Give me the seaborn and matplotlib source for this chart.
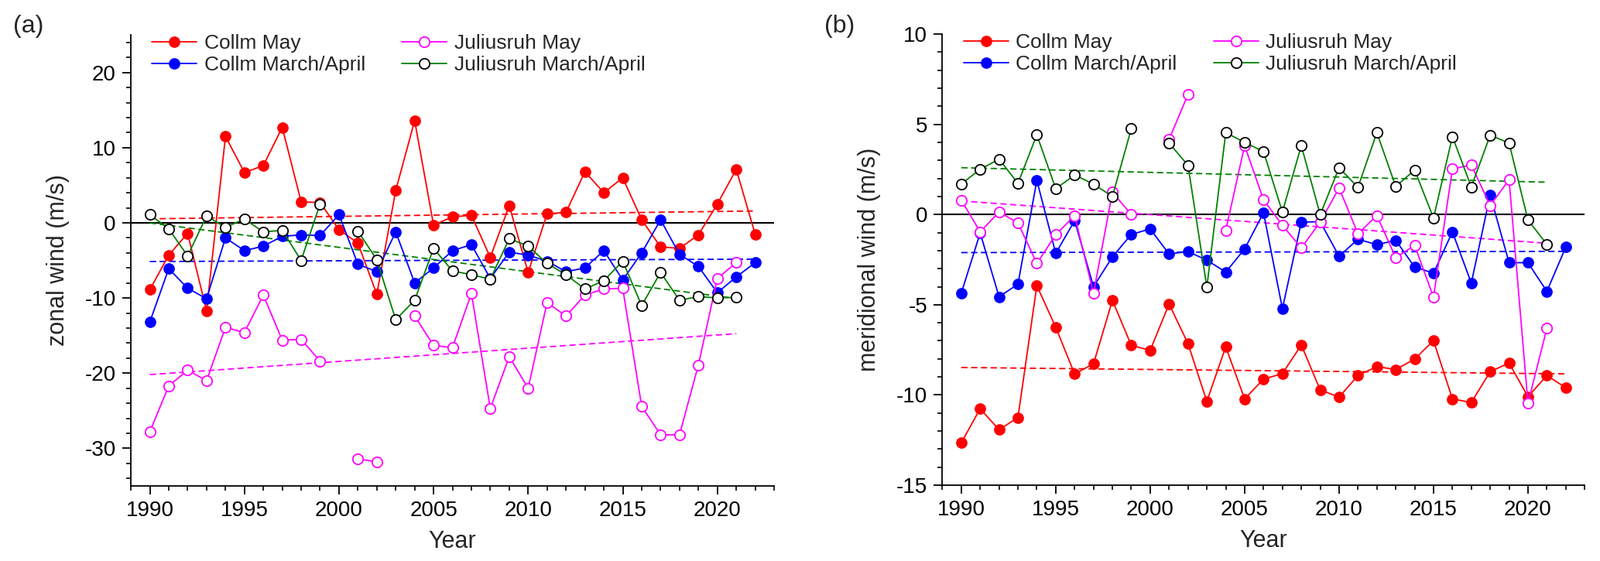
import matplotlib
matplotlib.use('Agg')
import matplotlib.pyplot as plt
import numpy as np
import pandas as pd
import seaborn as sns
from matplotlib.lines import Line2D
from matplotlib.ticker import MultipleLocator

sns.set_theme(style='ticks')
plt.rcParams['font.family'] = ['Liberation Sans', 'DejaVu Sans']
plt.rcParams.update(
    {
        'axes.unicode_minus': False,
        'axes.linewidth': 1.3,
        'xtick.direction': 'out',
        'ytick.direction': 'out',
        'xtick.major.size': 8,
        'ytick.major.size': 8,
        'xtick.minor.size': 4,
        'ytick.minor.size': 4,
        'xtick.major.width': 1.3,
        'ytick.major.width': 1.3,
        'xtick.minor.width': 1.2,
        'ytick.minor.width': 1.2,
        'xtick.major.pad': 6,
        'ytick.major.pad': 6,
        'xtick.labelsize': 20,
        'ytick.labelsize': 20,
        'axes.labelsize': 22,
        'xtick.color': 'black',
        'ytick.color': 'black',
        'axes.edgecolor': 'black',
    }
)

nan = np.nan
years = np.arange(1990, 2023)

# %%
# (a) zonal wind, m/s
u_collm_may = [-8.9, -4.3, -1.4, -11.7, 11.5, 6.7, 7.6, 12.7, 2.8, 2.7, -0.9,
               -2.7, -9.5, 4.3, 13.6, -0.3, 0.8, 1.0, -4.6, 2.3, -6.6, 1.2,
               1.4, 6.8, 4.0, 6.0, 0.4, -3.2, -3.4, -1.6, 2.5, 7.1, -1.5]
u_collm_ma = [-13.2, -6.1, -8.7, -10.1, -2.0, -3.7, -3.1, -1.8, -1.6, -1.7, 1.1,
              -5.5, -6.5, -1.2, -8.0, -6.0, -3.7, -2.9, -7.4, -3.9, -4.3, -5.1,
              -6.5, -6.0, -3.7, -7.6, -4.0, 0.4, -4.2, -5.8, -9.3, -7.2, -5.3]
u_juli_may = [-27.8, -21.7, -19.6, -21.0, -13.9, -14.6, -9.6, -15.6, -15.5, -18.4, nan,
              -31.4, -31.8, nan, -12.4, -16.3, -16.6, -9.4, -24.7, -17.8, -22.0, -10.6,
              -12.4, -9.6, -8.8, -8.7, -24.4, -28.2, -28.2, -18.9, -7.4, -5.3, nan]
u_juli_ma = [1.1, -0.8, -4.4, 0.9, -0.6, 0.5, -1.2, -1.0, -5.0, 2.5, nan,
             -1.1, -4.9, -12.9, -10.3, -3.4, -6.4, -6.9, -7.5, -2.1, -3.1, -5.4,
             -6.9, -8.8, -7.7, -5.1, -11.0, -6.6, -10.3, -9.8, -10.0, -9.9, nan]

# (b) meridional wind, m/s
v_collm_may = [-12.65, -10.76, -11.93, -11.25, -3.94, -6.25, -8.84, -8.27, -4.76, -7.25, -7.53,
               -4.96, -7.15, -10.36, -7.33, -10.22, -9.12, -8.82, -7.23, -9.72, -10.12, -8.92,
               -8.43, -8.59, -8.01, -6.99, -10.22, -10.42, -8.71, -8.23, -10.1, -8.92, -9.6]
v_collm_ma = [-4.36, -1.02, -4.56, -3.86, 1.89, -2.15, -0.34, -4.0, -2.35, -1.1, -0.8,
              -2.19, -2.05, -2.53, -3.19, -1.91, 0.1, -5.22, -0.42, -0.4, -2.31, -1.37,
              -1.67, -1.43, -2.91, -3.25, -0.96, -3.8, 1.08, -2.67, -2.67, -4.26, -1.81]
v_juli_may = [0.8, -0.96, 0.14, -0.46, -2.71, -1.12, -0.06, -4.38, 1.24, 0.0, nan,
              4.16, 6.65, nan, -0.88, 3.82, 0.82, -0.6, -1.85, -0.42, 1.47, -1.06,
              -0.06, -2.39, -1.71, -4.58, 2.53, 2.75, 0.5, 1.93, -10.46, -6.31, nan]
v_juli_ma = [1.69, 2.51, 3.07, 1.73, 4.42, 1.43, 2.19, 1.69, 1.0, 4.76, nan,
             3.96, 2.73, -4.02, 4.54, 4.0, 3.49, 0.14, 3.82, 0.0, 2.59, 1.51,
             4.54, 1.55, 2.47, -0.2, 4.32, 1.53, 4.4, 3.96, -0.3, -1.65, nan]

labels = ['Collm May', 'Collm March/April', 'Juliusruh May', 'Juliusruh March/April']
line_colors = ['#ff0000', '#0000ff', '#ff00ff', '#008000']
face_colors = ['#ff0000', '#0000ff', 'white', 'white']
edge_colors = ['#ff0000', '#0000ff', '#ff00ff', 'black']
trend_colors = ['#ff0000', '#0000ff', '#ff00ff', '#008000']
edge_widths = [1.0, 1.0, 1.3, 1.3]


# %%
def draw_series(ax, values, i):
    df = pd.DataFrame({'year': years, 'wind': values})
    df['seg'] = df['wind'].isna().cumsum()
    df = df.dropna()
    # dashed linear trend over the years with data
    sns.regplot(
        data=df, x='year', y='wind', ax=ax, scatter=False, ci=None, truncate=True,
        line_kws=dict(color=trend_colors[i], lw=1.3, ls=(0, (4.5, 2.5)), zorder=1.5),
    )
    sns.lineplot(
        data=df, x='year', y='wind', units='seg', estimator=None, ax=ax,
        color=line_colors[i], lw=1.3, marker='o', ms=9.6,
        mfc=face_colors[i], mec=edge_colors[i], mew=edge_widths[i], legend=False, zorder=2 + i,
    )


def style_axes(ax, ylim, major, minor, ylabel):
    ax.axhline(0, color='black', lw=1.5, zorder=1)
    ax.set_xlim(1989, 2023)
    ax.set_ylim(*ylim)
    ax.xaxis.set_major_locator(MultipleLocator(5))
    ax.xaxis.set_minor_locator(MultipleLocator(1))
    ax.yaxis.set_major_locator(MultipleLocator(major))
    ax.yaxis.set_minor_locator(MultipleLocator(minor))
    ax.set_xlabel('Year', labelpad=8)
    ax.set_ylabel(ylabel, labelpad=14)
    sns.despine(ax=ax)
    handles = [
        Line2D([], [], color=line_colors[i], lw=1.3, marker='o', ms=9.6,
               mfc=face_colors[i], mec=edge_colors[i], mew=edge_widths[i])
        for i in range(4)
    ]
    ax.legend(handles, labels, ncol=2, frameon=False, fontsize=19,
              loc='upper left', bbox_to_anchor=(0.02, 1.02), borderaxespad=0,
              handlelength=2.2, handletextpad=0.35, columnspacing=1.8, labelspacing=0.15)


fig = plt.figure(figsize=(20.67, 7.25), dpi=100)
ax_a = fig.add_axes([0.0818, 0.1338, 0.402, 0.804])
ax_b = fig.add_axes([0.589, 0.1352, 0.4014, 0.804])

for i, vals in enumerate([u_collm_may, u_collm_ma, u_juli_may, u_juli_ma]):
    draw_series(ax_a, vals, i)
style_axes(ax_a, (-35, 25), 10, 2, 'zonal wind (m/s)')

for i, vals in enumerate([v_collm_may, v_collm_ma, v_juli_may, v_juli_ma]):
    draw_series(ax_b, vals, i)
style_axes(ax_b, (-15, 10), 5, 1, 'meridional wind (m/s)')

fig.text(0.008, 0.953, '(a)', fontsize=23, va='center')
fig.text(0.515, 0.953, '(b)', fontsize=23, va='center')

fig.savefig('out.png', dpi=100)
